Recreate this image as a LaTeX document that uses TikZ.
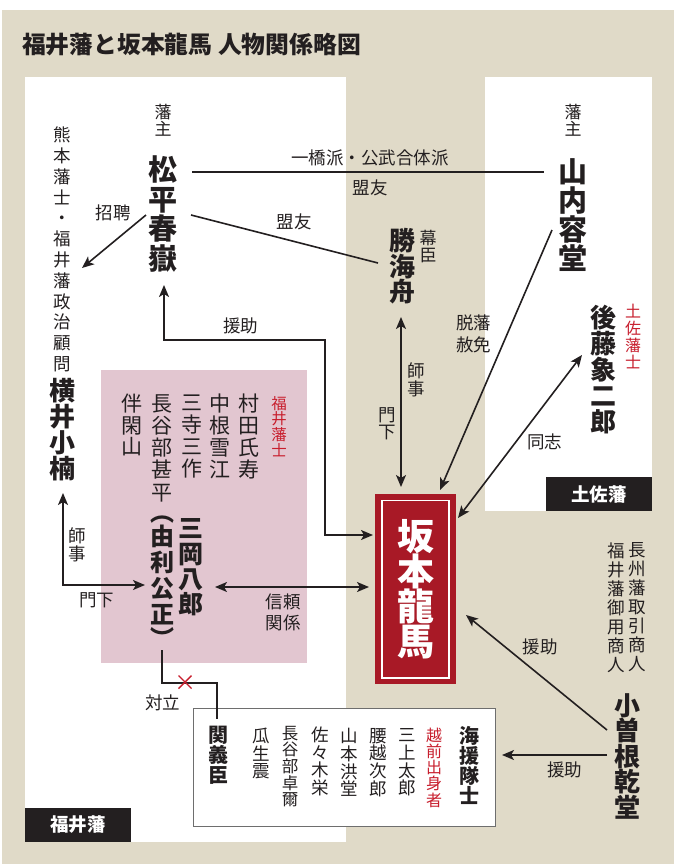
\documentclass[tikz,border=0pt]{standalone}
\usepackage{fontspec}
\setmainfont{Noto Sans CJK JP}
\usetikzlibrary{arrows.meta}
\definecolor{beige}{RGB}{224,218,200}
\definecolor{pinkbg}{RGB}{226,198,208}
\definecolor{ryomared}{RGB}{168,25,38}
\definecolor{labelred}{RGB}{200,30,45}
\definecolor{ink}{RGB}{35,31,32}
\definecolor{boxgray}{RGB}{110,110,110}
\newcommand\fs[2]{\fontsize{#1}{#2}\selectfont\lineskiplimit=-100pt\relax}
\ExplSyntaxOn
\NewDocumentCommand\vt{m}{
  \seq_clear:N \l_tmpa_seq
  \tl_map_inline:nn {#1} { \seq_put_right:Nn \l_tmpa_seq {##1} }
  \seq_use:Nn \l_tmpa_seq {\\}
}
\ExplSyntaxOff
\tikzset{
  vtx/.style={inner sep=0pt, align=center, text=ink},
  lbl/.style={inner sep=0pt, align=center, text=ink, font=\fs{17.5}{21.5}},
  conn/.style={line width=1.6pt, draw=ink},
  arr/.style={conn, -{Stealth[length=12pt,width=10pt,inset=3pt]}},
  darr/.style={conn, {Stealth[length=12pt,width=10pt,inset=3pt]}-{Stealth[length=12pt,width=10pt,inset=3pt]}},
  blackbox/.style={fill=ink, text=white, inner sep=0pt, minimum width=106pt, minimum height=34pt, font=\bfseries\fs{18.5}{20}}
}
\begin{document}
\begin{tikzpicture}[x=1pt,y=-1pt]
\useasboundingbox (0,0) rectangle (674,868);
% panels
\fill[beige] (2,10) rectangle (674,864);
\fill[white] (25,77) rectangle (346,842);
\fill[white] (485,77) rectangle (652,511);
\fill[pinkbg] (101,370) rectangle (307,663);

% title
\node[anchor=west, inner sep=0pt, text=ink, font=\bfseries\fs{23.8}{26}] (title) at (22,45) {福井藩と坂本龍馬 人物関係略図};

% Matsudaira
\node[vtx, font=\fs{17}{17}] (hanshu1) at (163,120) {\vt{藩主}};
\node[vtx, font=\bfseries\fs{29}{29.7}] (matsu) at (163,214) {\vt{松平春嶽}};
\node[vtx, font=\fs{17.5}{20.8}] (kumamoto) at (62,249.5) {\vt{熊本藩士・福井藩政治顧問}};
\node[vtx, font=\bfseries\fs{26}{26}] (yokoi) at (62,430) {\vt{横井小楠}};
\node[lbl] (shohei) at (113,213) {招聘};
\node[lbl] (hitotsu) at (370,158) {一橋派・公武合体派};
\node[lbl] (meiyu1) at (370,188) {盟友};
\node[lbl] (meiyu2) at (294,222) {盟友};

% Katsu
\node[vtx, font=\bfseries\fs{26}{25.5}] (katsu) at (402,266.5) {\vt{勝海舟}};
\node[vtx, font=\fs{17}{16.5}] (bakushin) at (428,246.5) {\vt{幕臣}};

% Yamauchi
\node[vtx, font=\fs{17}{17}] (hanshu2) at (573,120) {\vt{藩主}};
\node[vtx, font=\bfseries\fs{29}{29}] (yamauchi) at (573,215) {\vt{山内容堂}};
\node[lbl] (dappan) at (473.5,334) {脱藩\\赦免};

% Goto
\node[vtx, font=\bfseries\fs{26}{26}] (goto) at (603,370) {\vt{後藤象二郎}};
\node[vtx, text=labelred, font=\fs{16}{17}] (tosashi) at (633,336.5) {\vt{土佐藩士}};
\node[lbl] (doshi) at (544.5,442) {同志};
\node[vtx, font=\fs{17.5}{18}] (shiji1) at (416,379.5) {\vt{師事}};
\node[vtx, font=\fs{17.5}{16.5}] (monka1) at (387,423.5) {\vt{門下}};
\node[blackbox] (tosa) at (599,494) {土佐藩};

% Fukui retainers
\node[lbl] (enjo1) at (240.5,326) {援助};
\node[vtx, text=labelred, font=\fs{15.5}{15.7}] (fukuishi) at (279,426.5) {\vt{福井藩士}};
\node[vtx, font=\fs{21}{22}] (murata) at (249,436.5) {\vt{村田氏寿}};
\node[vtx, font=\fs{21}{22}] (nakane) at (220,436.5) {\vt{中根雪江}};
\node[vtx, font=\fs{21}{22}] (mitera) at (192,436.5) {\vt{三寺三作}};
\node[vtx, font=\fs{21}{22.25}] (hasebe) at (162,448) {\vt{長谷部甚平}};
\node[vtx, font=\fs{21}{21.5}] (ban) at (132,425) {\vt{伴閑山}};
\node[vtx, font=\bfseries\fs{25}{25.3}] (mitsuoka) at (191,567.5) {\vt{三岡八郎}};
\node[vtx, font=\bfseries\fs{24}{26}] (yuri) at (162,582) {︵\\[-2pt]由\\利\\公\\正\\[-2pt]︶};
\node[lbl] (shinrai) at (283,612.5) {信頼\\関係};
\node[vtx, font=\fs{17.5}{17.5}] (shiji2) at (77,545) {\vt{師事}};
\node[lbl] (monka2) at (96.5,600) {門下};
\node[lbl] (tairitsu) at (162.5,703) {対立};

% Ryoma
\node[fill=ryomared, minimum width=81pt, minimum height=190pt, inner sep=0pt] (ryoma) at (415.5,589) {};
\draw[white, line width=1.6pt] (382,500.5) rectangle (449,678);
\node[vtx, text=white, font=\bfseries\fs{37}{35}] (ryomaname) at (ryoma) {\vt{坂本龍馬}};

% Kosone
\node[vtx, font=\fs{17.5}{19}] (choshu) at (637,607.5) {\vt{長州藩取引商人}};
\node[vtx, font=\fs{17.5}{19}] (goyo) at (616,607.5) {\vt{福井藩御用商人}};
\node[lbl] (enjo2) at (540,647) {援助};
\node[vtx, font=\bfseries\fs{26}{25.5}] (kosone) at (627,756) {\vt{小曽根乾堂}};
\node[lbl] (enjo3) at (564.5,770) {援助};

% Echizen box
\node[draw=boxgray, fill=white, line width=1pt, minimum width=302pt, minimum height=118pt, inner sep=0pt] (echizen) at (344,767) {};
\node[vtx, font=\bfseries\fs{20}{20}] (kaientai) at (469,765.5) {\vt{海援隊士}};
\node[vtx, text=labelred, font=\fs{16}{16.25}] (shusshin) at (434,767.5) {\vt{越前出身者}};
\node[vtx, font=\fs{17.5}{17.7}] (mikami) at (407,762.5) {\vt{三上太郎}};
\node[vtx, font=\fs{17.5}{17.7}] (koshigoe) at (378,762.5) {\vt{腰越次郎}};
\node[vtx, font=\fs{17.5}{17.7}] (yamamoto) at (349,762.5) {\vt{山本洪堂}};
\node[vtx, font=\fs{17.5}{17.7}] (sasaki) at (320,761.5) {\vt{佐々木栄}};
\node[vtx, font=\fs{16.5}{16.6}] (hasebe2) at (290,766.5) {\vt{長谷部卓爾}};
\node[vtx, font=\fs{17.5}{17.5}] (uryu) at (261,753.5) {\vt{瓜生震}};
\node[vtx, font=\bfseries\fs{20}{20}] (seki) at (218,755.5) {\vt{関義臣}};
\node[blackbox] (fukuihan) at (78,825) {福井藩};

% connector coordinates
\coordinate (shoA) at (146,215);
\coordinate (shoB) at (82,268);
\coordinate (hitA) at (192,172);
\coordinate (hitB) at (544,172);
\coordinate (meiA) at (191,215);
\coordinate (meiB) at (378,263);
\coordinate (enTip) at (164,285);
\coordinate (enC1) at (164,340);
\coordinate (enC2) at (325,340);
\coordinate (enC3) at (325,535);
\coordinate (enEnd) at (373,535);
\coordinate (katA) at (401,317);
\coordinate (katB) at (401,487);
\coordinate (dapA) at (552,230);
\coordinate (dapB) at (440,490);
\coordinate (doA) at (582,355);
\coordinate (doB) at (458,518);
\coordinate (shA) at (215,587);
\coordinate (shB) at (369,587);
\coordinate (yoA) at (63,493);
\coordinate (yoC) at (63,585);
\coordinate (yoB) at (145,585);
\coordinate (taA) at (162,650);
\coordinate (taC1) at (162,683);
\coordinate (taC2) at (217,683);
\coordinate (taB) at (217,719);
\coordinate (xmark) at (185,682);
\coordinate (koA) at (607,730);
\coordinate (koB) at (466,615);
\coordinate (koC) at (607,755);
\coordinate (koD) at (502,755);

% connectors
\draw[arr] (shoA) -- (shoB);
\draw[conn] (hitA) -- (hitB);
\draw[conn] (meiA) -- (meiB);
\draw[darr] (enTip) -- (enC1) -- (enC2) -- (enC3) -- (enEnd);
\draw[darr] (katA) -- (katB);
\draw[arr] (dapA) -- (dapB);
\draw[darr] (doA) -- (doB);
\draw[darr] (shA) -- (shB);
\draw[darr] (yoA) -- (yoC) -- (yoB);
\draw[conn] (taA) -- (taC1) -- (taC2) -- (taB);
\draw[labelred, line width=1.4pt] (xmark) +(-6.5,-6.5) -- +(6.5,6.5) +(-6.5,6.5) -- +(6.5,-6.5);
\draw[arr] (koA) -- (koB);
\draw[arr] (koC) -- (koD);
\end{tikzpicture}
\end{document}
